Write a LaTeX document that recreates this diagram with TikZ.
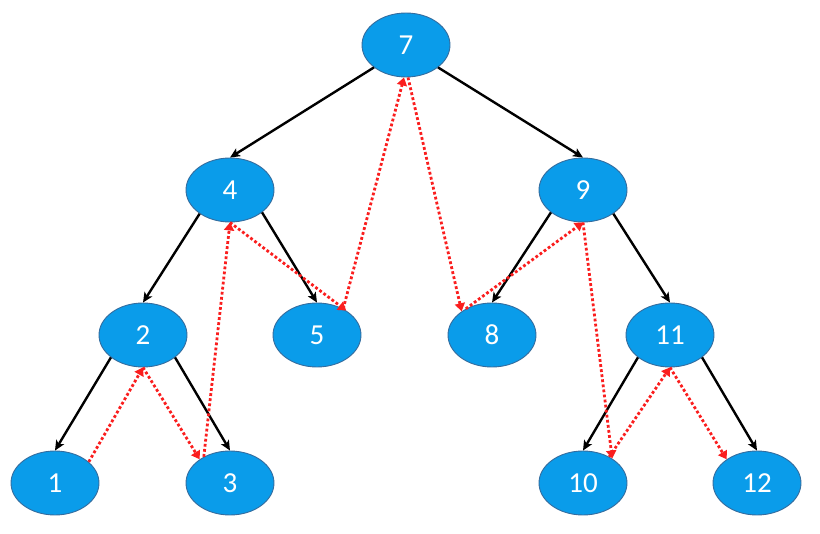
\documentclass[tikz,border=0pt]{standalone}
\usepackage{fontspec}
\setmainfont{Carlito}
\usetikzlibrary{arrows.meta,shapes.geometric}
\definecolor{nodeblue}{RGB}{10,156,234}
\definecolor{nodeedge}{RGB}{52,108,158}
\definecolor{threadred}{RGB}{250,30,30}
\tikzset{key/.style={ellipse,draw=nodeedge,fill=nodeblue,line width=0.9pt,
  minimum width=88pt,minimum height=64pt,inner sep=0pt,
  text=white,font=\fontsize{29}{29}\selectfont}}
\tikzset{child/.style={-{Stealth[length=10pt,width=9pt,inset=2.5pt]},line width=2.4pt,black}}
\tikzset{thread/.style={-{Triangle[length=8pt,width=10pt]},line width=2.8pt,threadred,
  dash pattern=on 2.8pt off 2.3pt}}

\begin{document}
\begin{tikzpicture}[x=1pt,y=-1pt]
\useasboundingbox (0,0) rectangle (820,534);
% \draw[help lines] (0,0) grid (820,534);
\node (k7) [key] at (406,45) {7};
\node (k4) [key] at (230,190) {4};
\node (k9) [key] at (583,190) {9};
\node (k2) [key] at (143,335) {2};
\node (k5) [key] at (317,335) {5};
\node (k8) [key] at (492,335) {8};
\node (k11) [key] at (670,335) {11};
\node (k1) [key] at (55,483) {1};
\node (k3) [key] at (230,483) {3};
\node (k10) [key] at (583,483) {10};
\node (k12) [key] at (757,483) {12};
%
\path[child] (k7.215) edge (k4.north);
\path[child] (k7.325) edge (k9.north);
\path[child] (k4.218) edge (k2.north);
\path[child] (k4.325) edge (k5.north);
\path[child] (k9.215) edge (k8.north);
\path[child] (k9.322) edge (k11.north);
\path[child] (k2.215) edge (k1.north);
\path[child] (k2.325) edge (k3.north);
\path[child] (k11.215) edge (k10.north);
\path[child] (k11.325) edge (k12.north);
%
\path[thread] (k1.32) edge (k2.south);
\path[thread] (k2.south) edge (k3.142);
\path[thread] (k3.135) edge (k4.south);
\path[thread] (k4.south) edge (k5.40);
\path[thread] (k5.45) edge ([xshift=-2pt]k7.south);
\path[thread] ([xshift=2pt]k7.south) edge (k8.142);
\path[thread] (k8.135) edge (k9.south);
\path[thread] (k9.south) edge (k10.40);
\path[thread] (k10.45) edge (k11.south);
\path[thread] (k11.south) edge (k12.142);
%
\end{tikzpicture}
\end{document}
